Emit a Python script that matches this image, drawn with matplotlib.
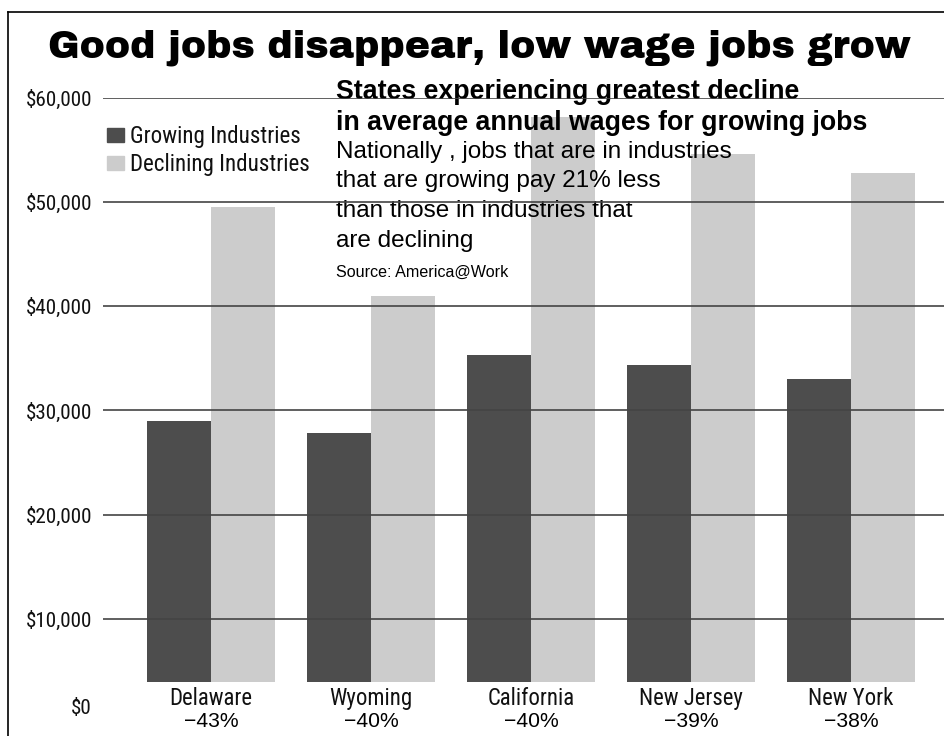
import matplotlib
matplotlib.use('Agg')
import matplotlib.pyplot as plt
from matplotlib.patches import Patch
from matplotlib.lines import Line2D
import numpy as np

states = ['Delaware', 'Wyoming', 'California', 'New Jersey', 'New York']
pct_change = ['\u221243%', '\u221240%', '\u221240%', '\u221239%', '\u221238%']
growing = [29000, 27800, 35300, 34400, 33000]
declining = [49500, 41000, 58200, 54600, 52800]
yticks = [10000, 20000, 30000, 40000, 50000, 60000]

NARROW = ['Roboto Condensed', 'DejaVu Sans']
REG = ['Liberation Sans', 'DejaVu Sans']
BLACK = ['Archivo Black', 'DejaVu Sans']

W, H = 944, 736
fig = plt.figure(figsize=(W / 100, H / 100), dpi=100)
renderer = fig.canvas.get_renderer()


def fx(px):
    return px / W


def fy(py):
    return 1 - py / H


def fit_size(text, family, size, target_px, weight='normal'):
    # scale a font size so the text is as wide as in the reference
    t = fig.text(0, 0, text, family=family, fontsize=size, weight=weight)
    w = t.get_window_extent(renderer).width
    t.remove()
    return size * target_px / w


# axes: x from 103px to right edge, $0 at 723px, $60,000 at 98px
ax = fig.add_axes([fx(103), fy(723), fx(W - 103), fy(98) - fy(723)])
x = np.arange(len(states))
bw = 0.4
ax.bar(x - bw / 2, growing, bw, color='#4d4d4d', zorder=1)
ax.bar(x + bw / 2, declining, bw, color='#cccccc', zorder=1)
# the bottom strip is blanked out for the labels
ax.axhspan(0, 3900, color='white', zorder=1.5, lw=0)

ax.set_xlim(-0.675, 4.581)
ax.set_ylim(0, 60000)
for s in ax.spines.values():
    s.set_visible(False)
ax.set_xticks([])
tick_fs = fit_size('$60,000', NARROW, 16, 67)
ax.set_yticks(yticks)
ax.set_yticklabels(['${:,}'.format(v) for v in yticks], family=NARROW, fontsize=tick_fs)
ax.tick_params(axis='y', length=0, pad=8, colors='#222222', labelcolor='#111111')
ax.set_axisbelow(False)
ax.grid(axis='y', color='#444444', lw=1.2)

# $0 label sits up among the state names
ax.annotate('$0', xy=(0, 0), xycoords=ax.get_yaxis_transform(), xytext=(-8, 10.8),
            textcoords='offset points', ha='right', va='center', family=NARROW,
            fontsize=tick_fs, color='#111111')

state_fs = fit_size('Delaware', NARROW, 17, 83)
pct_fs = fit_size('\u221243%', REG, 15, 55)
for i, (st, pc) in enumerate(zip(states, pct_change)):
    ax.annotate(st, xy=(i, 0), xytext=(0, 13), textcoords='offset points',
                ha='center', va='baseline', family=NARROW, fontsize=state_fs, color='#111111')
    ax.annotate(pc, xy=(i, 0), xytext=(0, -2.9), textcoords='offset points',
                ha='center', va='baseline', family=REG, fontsize=pct_fs, annotation_clip=False)

leg_fs = fit_size('Growing Industries', NARROW, 17, 170)
handles = [Patch(color='#4d4d4d', label='Growing Industries'),
           Patch(color='#cccccc', label='Declining Industries')]
leg = ax.legend(handles=handles, loc='upper left', bbox_to_anchor=(fx(107), fy(125)),
                bbox_transform=fig.transFigure, frameon=False,
                prop={'family': NARROW, 'size': leg_fs},
                handlelength=0.72, handleheight=0.6, handletextpad=0.3, labelspacing=0.22,
                borderpad=0, borderaxespad=0)
for t in leg.get_texts():
    t.set_color('#111111')

title = 'Good jobs disappear, low wage jobs grow'
fig.text(fx(479.5), fy(57), title, ha='center', va='baseline', family=BLACK,
         fontsize=fit_size(title, BLACK, 26, 861))

bold_lines = ['States experiencing greatest decline', 'in average annual wages for growing jobs']
bold_fs = fit_size(bold_lines[1], REG, 19, 532, weight='bold')
for txt, by in zip(bold_lines, [99, 130]):
    ax.text(fx(336), fy(by), txt, transform=fig.transFigure, va='baseline',
            family=REG, weight='bold', fontsize=bold_fs, zorder=2)
body_lines = ['Nationally , jobs that are in industries', 'that are growing pay 21% less',
              'than those in industries that', 'are declining']
body_fs = fit_size(body_lines[0], REG, 17, 397)
for txt, by in zip(body_lines, [158, 187.5, 217, 246.5]):
    ax.text(fx(336), fy(by), txt, transform=fig.transFigure, va='baseline',
            family=REG, fontsize=body_fs, zorder=2)
src = 'Source: America@Work'
ax.text(fx(336), fy(277), src, transform=fig.transFigure, va='baseline',
        family=REG, fontsize=fit_size(src, REG, 11, 172), zorder=2)

# frame round the graphic (only top and left edges are inside the picture)
fig.add_artist(Line2D([fx(8), fx(8)], [0, fy(12)], color='black', lw=1.2, transform=fig.transFigure))
fig.add_artist(Line2D([fx(8), 1], [fy(12), fy(12)], color='black', lw=1.2, transform=fig.transFigure))

fig.savefig('out.png', dpi=100)
